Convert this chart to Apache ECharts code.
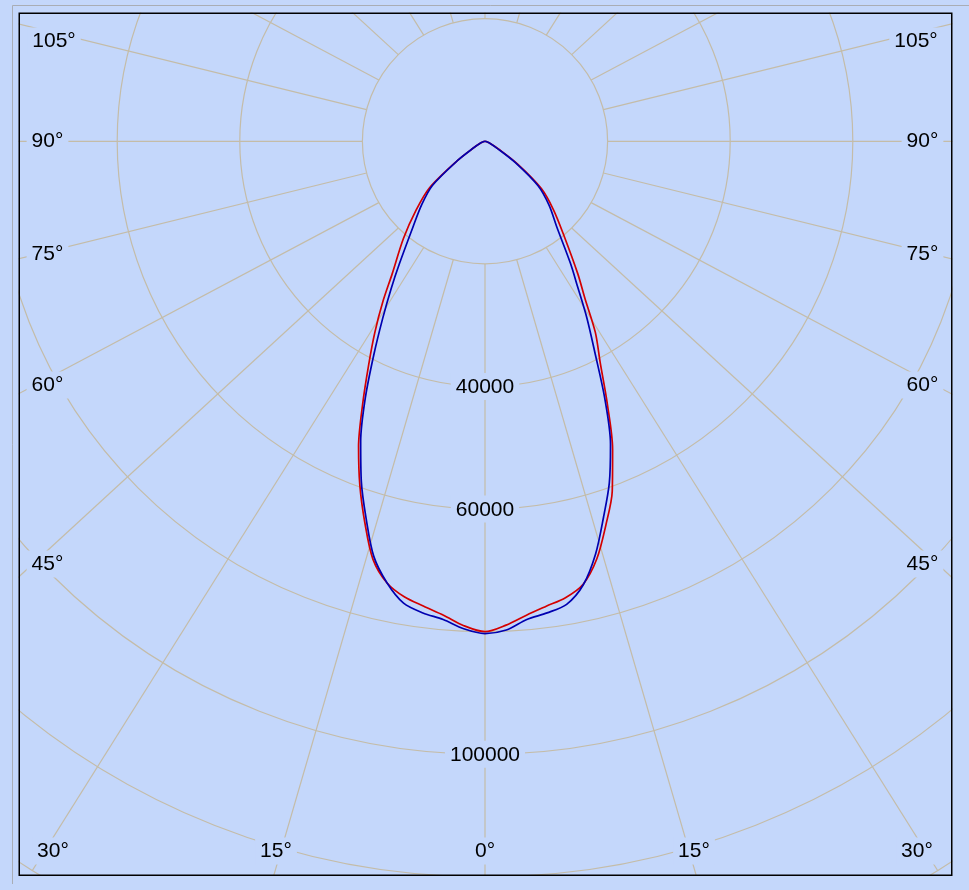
<!DOCTYPE html>
<html>
<head>
<meta charset="utf-8">
<title>polar intensity</title>
<script src="https://cdn.jsdelivr.net/npm/echarts@6/dist/echarts.min.js"></script>
<style>
html, body { margin: 0; padding: 0; background: #c4d7fb; }
#main { width: 969px; height: 890px; }
</style>
</head>
<body>
<div id="main"></div>
<script>
// gamma angles from nadir (deg), same for both sides
var gamma = [0, 2.5, 5, 7.5, 10, 12.5, 15, 17.5, 20, 22.5, 25, 27.5, 30, 32.5, 35, 40, 45, 50, 55, 60, 70, 80, 90];
// red curve (left half / right half)
var redLeft  = [80000, 79100, 77600, 76500, 75500, 73800, 70600, 65200, 59700, 53900, 47200, 41100, 35900, 31000, 26400, 20700, 15900, 11800, 5500, 2200, 700, 200, 0];
var redRight = [80000, 79000, 77600, 76500, 75600, 74000, 70500, 65600, 60700, 54400, 47200, 40700, 36000, 30300, 26400, 20000, 15800, 12000, 6500, 2600, 700, 200, 0];
// blue curve
var blueLeft  = [80300, 79600, 78300, 77600, 76500, 73800, 70100, 64500, 59000, 53000, 46200, 39300, 33400, 28500, 24300, 18300, 14600, 11200, 5500, 2200, 700, 200, 0];
var blueRight = [80300, 79800, 78300, 77600, 76700, 74100, 69700, 64300, 59300, 53500, 46200, 38800, 33200, 28100, 24300, 18200, 14800, 11300, 6000, 2300, 700, 200, 0];
// ring labels that are printed
var ringLabels = [40000, 60000, 100000];
// angle labels (deg) shown on both sides
var angleLabels = [0, 15, 30, 45, 60, 75, 90, 105];

var bg = '#c4d7fb';
var gridColor = '#c4bca8';
var fontFamily = '"Liberation Sans", Arial, sans-serif';
var font = '21px ' + fontFamily;

var cx = 485, cy = 141.3;
var pxPerUnit = 122.6 / 20000;
var rMax = 140000;
var stretch = 1.088; // the rays of the original drift slightly outwards

// where the angle labels sit (left side), right side is mirrored
var labelPos = {
  0: [485, 851], 15: [276, 851], 30: [53, 851], 45: [47.5, 564],
  60: [47.5, 385], 75: [47.5, 254], 90: [47.5, 141], 105: [54, 41]
};

function curveData(left, right) {
  var d = [];
  for (var i = gamma.length - 1; i >= 0; i--) {
    d.push([right[i], 360 - gamma[i]]);
  }
  for (var j = 1; j < gamma.length; j++) {
    d.push([left[j], gamma[j]]);
  }
  return d;
}

// radial rays: start on the 20000 ring, run out to the frame
var raySeries = [];
for (var g = 0; g < 360; g += 15) {
  var a = g * Math.PI / 180;
  var r0 = 20000 * pxPerUnit;
  var ix = -r0 * Math.sin(a), iy = r0 * Math.cos(a);
  var dx = -stretch * Math.sin(a), dy = Math.cos(a);
  var len = Math.sqrt(dx * dx + dy * dy);
  var ex = ix + 1100 * dx / len, ey = iy + 1100 * dy / len;
  var endVal = Math.sqrt(ex * ex + ey * ey) / pxPerUnit;
  var endAng = (Math.atan2(-ex, ey) * 180 / Math.PI + 360) % 360;
  raySeries.push({
    type: 'line',
    coordinateSystem: 'polar',
    silent: true,
    clip: false,
    z: 1,
    symbol: 'none',
    animation: false,
    lineStyle: { color: gridColor, width: 1.2 },
    data: [[20000, g], [endVal, endAng]]
  });
}

var texts = [];
angleLabels.forEach(function (v) {
  var p = labelPos[v];
  var sides = v === 0 ? [p[0]] : [p[0], 970 - p[0]];
  sides.forEach(function (x) {
    texts.push({
      type: 'text',
      z: 4,
      silent: true,
      style: {
        text: v + '°', x: x, y: p[1], font: font, fill: '#000',
        align: 'center', verticalAlign: 'middle',
        backgroundColor: bg, padding: [3, 5]
      }
    });
  });
});

// masks outside the frame, the outer panel lines and the black frame
var frame = [
  { type: 'rect', z: 10, silent: true, shape: { x: 0, y: 0, width: 969, height: 12.5 }, style: { fill: bg } },
  { type: 'rect', z: 10, silent: true, shape: { x: 0, y: 0, width: 18.5, height: 890 }, style: { fill: bg } },
  { type: 'rect', z: 10, silent: true, shape: { x: 952.5, y: 0, width: 20, height: 890 }, style: { fill: bg } },
  { type: 'rect', z: 10, silent: true, shape: { x: 0, y: 876, width: 969, height: 20 }, style: { fill: bg } },
  { type: 'line', z: 11, silent: true, shape: { x1: 12.5, y1: 5.5, x2: 969, y2: 5.5 }, style: { stroke: '#a9adb5', lineWidth: 1 } },
  { type: 'line', z: 11, silent: true, shape: { x1: 12.5, y1: 5.5, x2: 12.5, y2: 884 }, style: { stroke: '#a9adb5', lineWidth: 1 } },
  { type: 'rect', z: 11, silent: true, shape: { x: 19.25, y: 13.25, width: 932.5, height: 862 }, style: { fill: null, stroke: '#000', lineWidth: 1.5 } }
];

var myChart = echarts.init(document.getElementById('main'));
var option = {
  backgroundColor: bg,
  animation: false,
  polar: { center: [cx, cy], radius: rMax * pxPerUnit },
  angleAxis: {
    type: 'value', min: 0, max: 360, startAngle: 270, clockwise: true,
    axisLine: { show: false }, axisTick: { show: false },
    axisLabel: { show: false }, splitLine: { show: false }
  },
  radiusAxis: {
    type: 'value', min: 0, max: rMax, interval: 20000, z: 3,
    axisLine: { show: false }, axisTick: { show: false },
    splitLine: { show: true, lineStyle: { color: gridColor, width: 1.2 } },
    axisLabel: {
      margin: 0, align: 'center', verticalAlign: 'middle',
      formatter: function (v) {
        return ringLabels.indexOf(v) >= 0 ? '{a|' + v + '}' : '';
      },
      rich: {
        a: {
          fontFamily: fontFamily, fontSize: 21, color: '#000',
          backgroundColor: bg, padding: [4, 5, 2, 5]
        }
      }
    }
  },
  graphic: { elements: texts.concat(frame) },
  series: raySeries.concat([
    {
      name: 'red', type: 'line', coordinateSystem: 'polar', z: 5,
      symbol: 'none', smooth: 0.3, clip: false,
      lineStyle: { color: '#d40000', width: 1.7 },
      data: curveData(redLeft, redRight)
    },
    {
      name: 'blue', type: 'line', coordinateSystem: 'polar', z: 6,
      symbol: 'none', smooth: 0.3, clip: false,
      lineStyle: { color: '#0000b0', width: 1.7 },
      data: curveData(blueLeft, blueRight)
    }
  ])
};
myChart.setOption(option);
</script>
</body>
</html>
